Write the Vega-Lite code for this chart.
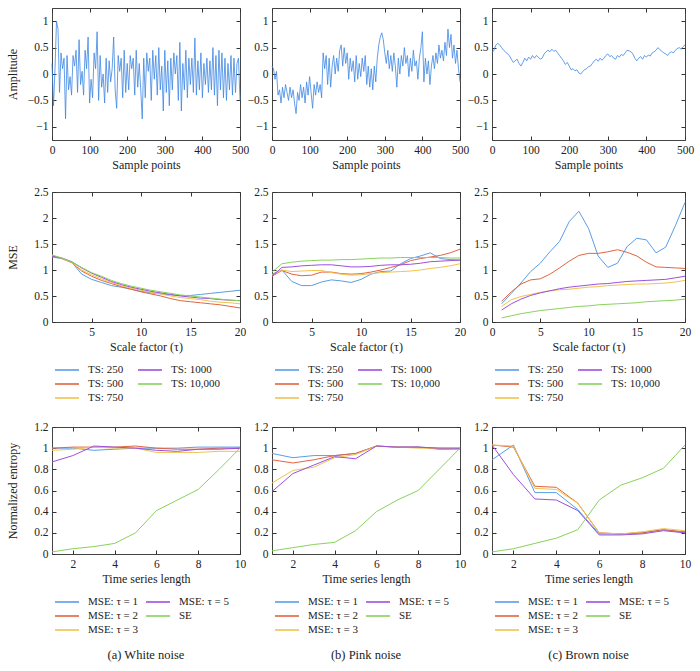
{
"$schema":"https://vega.github.io/schema/vega-lite/v6.json",
"background":"white",
"padding":{"left":5,"top":7,"right":5,"bottom":5},
"config":{
 "font":"Liberation Serif",
 "view":{"stroke":"#444","strokeWidth":1},
 "axis":{"labelFont":"Liberation Serif","titleFont":"Liberation Serif","labelFontSize":11.5,"titleFontSize":12,"titleFontWeight":"normal","labelColor":"#222","titleColor":"#222","tickSize":-4,"tickColor":"#333","domain":false,"grid":false,"labelPadding":8,"labelFlush":false,"labelOverlap":false,"titlePadding":4},
 "legend":{"orient":"bottom","columns":2,"symbolType":"M-1,0H3","symbolSize":144,"symbolStrokeWidth":1.6,"labelFont":"Liberation Serif","labelFontSize":11,"labelColor":"#222","labelOffset":20,"rowPadding":2,"offset":8,"padding":2},
 "title":{"font":"Liberation Serif","fontSize":12.5,"fontWeight":"normal","color":"#222"}
},
"datasets":{
"ts":[
{"t":0,"w":0.2,"p":0.15},{"t":4,"w":-0.6,"p":0.1},{"t":8,"w":0.1,"p":-0.1},{"t":12,"w":1.0,"p":0.05},{"t":16,"w":0.85,"p":-0.4},{"t":20,"w":-0.35,"p":-0.3},{"t":24,"w":0.4,"p":-0.55},{"t":28,"w":0.1,"p":-0.25},{"t":32,"w":0.3,"p":-0.45},{"t":36,"w":-0.85,"p":-0.2},{"t":40,"w":0.35,"p":-0.35},{"t":44,"w":-0.3,"p":-0.5},{"t":48,"w":-0.05,"p":-0.25},{"t":52,"w":-0.4,"p":-0.45},{"t":56,"w":0.35,"p":-0.3},{"t":60,"w":0.15,"p":-0.55},{"t":64,"w":0.45,"p":-0.75},{"t":68,"w":-0.35,"p":-0.35},{"t":72,"w":0.65,"p":-0.5},{"t":76,"w":-0.2,"p":-0.2},{"t":80,"w":0.05,"p":-0.45},{"t":84,"w":-0.4,"p":-0.25},{"t":88,"w":0.45,"p":-0.55},{"t":92,"w":0.1,"p":-0.15},{"t":96,"w":0.7,"p":-0.4},{"t":100,"w":-0.55,"p":-0.05},{"t":104,"w":-0.1,"p":-0.35},{"t":108,"w":-0.45,"p":-0.65},{"t":112,"w":0.4,"p":-0.2},{"t":116,"w":0.1,"p":-0.4},{"t":120,"w":0.8,"p":-0.15},{"t":124,"w":-0.5,"p":-0.35},{"t":128,"w":0.35,"p":-0.2},{"t":132,"w":-0.25,"p":-0.45},{"t":136,"w":0.0,"p":0.4},{"t":140,"w":-0.55,"p":0.1},{"t":144,"w":0.3,"p":0.35},{"t":148,"w":-0.35,"p":-0.2},{"t":152,"w":0.25,"p":0.3},{"t":156,"w":-0.15,"p":-0.25},{"t":160,"w":0.1,"p":0.15},{"t":164,"w":0.7,"p":0.35},{"t":168,"w":-0.3,"p":0.0},{"t":172,"w":-0.65,"p":0.3},{"t":176,"w":0.35,"p":0.05},{"t":180,"w":0.05,"p":0.45},{"t":184,"w":0.3,"p":0.55},{"t":188,"w":-0.45,"p":0.15},{"t":192,"w":0.45,"p":0.5},{"t":196,"w":-0.35,"p":0.2},{"t":200,"w":0.2,"p":0.4},{"t":204,"w":-0.3,"p":-0.1},{"t":208,"w":0.35,"p":0.3},{"t":212,"w":0.1,"p":0.05},{"t":216,"w":0.3,"p":0.25},{"t":220,"w":-0.4,"p":-0.15},{"t":224,"w":0.45,"p":0.35},{"t":228,"w":-0.25,"p":-0.1},{"t":232,"w":0.2,"p":0.2},{"t":236,"w":-0.3,"p":-0.05},{"t":240,"w":-0.85,"p":0.3},{"t":244,"w":0.3,"p":0.05},{"t":248,"w":-0.45,"p":0.35},{"t":252,"w":0.4,"p":-0.2},{"t":256,"w":0.05,"p":0.15},{"t":260,"w":0.3,"p":-0.25},{"t":264,"w":-0.5,"p":0.1},{"t":268,"w":0.45,"p":-0.3},{"t":272,"w":-0.1,"p":0.15},{"t":276,"w":0.35,"p":-0.15},{"t":280,"w":-0.4,"p":0.3},{"t":284,"w":0.5,"p":0.55},{"t":288,"w":-0.3,"p":0.7},{"t":292,"w":0.15,"p":0.78},{"t":296,"w":-0.7,"p":0.65},{"t":300,"w":0.45,"p":0.4},{"t":304,"w":-0.35,"p":0.2},{"t":308,"w":0.25,"p":0.45},{"t":312,"w":-0.6,"p":0.1},{"t":316,"w":0.3,"p":0.35},{"t":320,"w":-0.3,"p":0.05},{"t":324,"w":0.4,"p":0.4},{"t":328,"w":0.0,"p":0.15},{"t":332,"w":0.35,"p":-0.25},{"t":336,"w":-0.5,"p":0.3},{"t":340,"w":0.6,"p":0.0},{"t":344,"w":-0.7,"p":0.35},{"t":348,"w":0.2,"p":0.15},{"t":352,"w":-0.3,"p":0.5},{"t":356,"w":0.45,"p":0.2},{"t":360,"w":-0.45,"p":0.35},{"t":364,"w":0.3,"p":-0.05},{"t":368,"w":-0.2,"p":0.3},{"t":372,"w":0.3,"p":0.05},{"t":376,"w":-0.35,"p":0.45},{"t":380,"w":0.68,"p":0.15},{"t":384,"w":-0.4,"p":0.25},{"t":388,"w":0.25,"p":-0.1},{"t":392,"w":-0.3,"p":0.3},{"t":396,"w":0.4,"p":0.5},{"t":400,"w":-0.45,"p":0.8},{"t":404,"w":0.2,"p":-0.15},{"t":408,"w":-0.2,"p":0.3},{"t":412,"w":0.3,"p":0.0},{"t":416,"w":-0.35,"p":0.25},{"t":420,"w":0.25,"p":-0.2},{"t":424,"w":-0.3,"p":0.15},{"t":428,"w":0.5,"p":0.35},{"t":432,"w":-0.4,"p":0.1},{"t":436,"w":0.35,"p":0.4},{"t":440,"w":-0.6,"p":0.2},{"t":444,"w":0.45,"p":0.55},{"t":448,"w":-0.3,"p":0.3},{"t":452,"w":0.4,"p":0.45},{"t":456,"w":-0.45,"p":0.25},{"t":460,"w":0.3,"p":0.6},{"t":464,"w":-0.5,"p":0.35},{"t":468,"w":0.2,"p":0.85},{"t":472,"w":-0.3,"p":0.5},{"t":476,"w":0.35,"p":0.75},{"t":480,"w":-0.4,"p":0.3},{"t":484,"w":0.3,"p":0.55},{"t":488,"w":-0.35,"p":0.2},{"t":492,"w":0.2,"p":0.45},{"t":496,"w":0.3,"p":0.1},{"t":500,"w":-0.5,"p":-0.15}
],
"brown":[
{"t":0,"b":0.4},{"t":5,"b":0.45},{"t":10,"b":0.55},{"t":15,"b":0.58},{"t":20,"b":0.55},{"t":25,"b":0.5},{"t":30,"b":0.45},{"t":35,"b":0.42},{"t":40,"b":0.38},{"t":45,"b":0.35},{"t":50,"b":0.28},{"t":55,"b":0.22},{"t":60,"b":0.25},{"t":65,"b":0.28},{"t":70,"b":0.2},{"t":75,"b":0.15},{"t":80,"b":0.22},{"t":85,"b":0.3},{"t":90,"b":0.25},{"t":95,"b":0.32},{"t":100,"b":0.28},{"t":105,"b":0.35},{"t":110,"b":0.3},{"t":115,"b":0.35},{"t":120,"b":0.32},{"t":125,"b":0.28},{"t":130,"b":0.3},{"t":135,"b":0.38},{"t":140,"b":0.42},{"t":145,"b":0.45},{"t":150,"b":0.42},{"t":155,"b":0.47},{"t":160,"b":0.43},{"t":165,"b":0.45},{"t":170,"b":0.4},{"t":175,"b":0.35},{"t":180,"b":0.3},{"t":185,"b":0.25},{"t":190,"b":0.18},{"t":195,"b":0.22},{"t":200,"b":0.15},{"t":205,"b":0.08},{"t":210,"b":0.1},{"t":215,"b":0.06},{"t":220,"b":0.08},{"t":225,"b":0.02},{"t":230,"b":0.0},{"t":235,"b":0.05},{"t":240,"b":0.08},{"t":245,"b":0.1},{"t":250,"b":0.14},{"t":255,"b":0.15},{"t":260,"b":0.2},{"t":265,"b":0.25},{"t":270,"b":0.28},{"t":275,"b":0.24},{"t":280,"b":0.3},{"t":285,"b":0.26},{"t":290,"b":0.3},{"t":295,"b":0.35},{"t":300,"b":0.38},{"t":305,"b":0.33},{"t":310,"b":0.35},{"t":315,"b":0.3},{"t":320,"b":0.28},{"t":325,"b":0.35},{"t":330,"b":0.32},{"t":335,"b":0.37},{"t":340,"b":0.35},{"t":345,"b":0.4},{"t":350,"b":0.45},{"t":355,"b":0.44},{"t":360,"b":0.42},{"t":365,"b":0.38},{"t":370,"b":0.3},{"t":375,"b":0.25},{"t":380,"b":0.3},{"t":385,"b":0.33},{"t":390,"b":0.28},{"t":395,"b":0.35},{"t":400,"b":0.32},{"t":405,"b":0.36},{"t":410,"b":0.34},{"t":415,"b":0.4},{"t":420,"b":0.42},{"t":425,"b":0.45},{"t":430,"b":0.5},{"t":435,"b":0.46},{"t":440,"b":0.43},{"t":445,"b":0.4},{"t":450,"b":0.38},{"t":455,"b":0.35},{"t":460,"b":0.4},{"t":465,"b":0.42},{"t":470,"b":0.4},{"t":475,"b":0.45},{"t":480,"b":0.48},{"t":485,"b":0.5},{"t":490,"b":0.47},{"t":495,"b":0.52},{"t":500,"b":0.55}
],
"mseW":[
{"tau":1,"TS: 250":1.25,"TS: 500":1.27,"TS: 750":1.28,"TS: 1000":1.27,"TS: 10,000":1.29},
{"tau":2,"TS: 250":1.22,"TS: 500":1.22,"TS: 750":1.22,"TS: 1000":1.23,"TS: 10,000":1.23},
{"tau":3,"TS: 250":1.15,"TS: 500":1.14,"TS: 750":1.14,"TS: 1000":1.16,"TS: 10,000":1.15},
{"tau":4,"TS: 250":0.92,"TS: 500":0.98,"TS: 750":1.0,"TS: 1000":1.04,"TS: 10,000":1.05},
{"tau":5,"TS: 250":0.82,"TS: 500":0.88,"TS: 750":0.91,"TS: 1000":0.94,"TS: 10,000":0.95},
{"tau":6,"TS: 250":0.76,"TS: 500":0.8,"TS: 750":0.83,"TS: 1000":0.86,"TS: 10,000":0.88},
{"tau":7,"TS: 250":0.7,"TS: 500":0.74,"TS: 750":0.76,"TS: 1000":0.78,"TS: 10,000":0.8},
{"tau":8,"TS: 250":0.67,"TS: 500":0.68,"TS: 750":0.7,"TS: 1000":0.72,"TS: 10,000":0.74},
{"tau":9,"TS: 250":0.63,"TS: 500":0.63,"TS: 750":0.65,"TS: 1000":0.67,"TS: 10,000":0.69},
{"tau":10,"TS: 250":0.59,"TS: 500":0.58,"TS: 750":0.61,"TS: 1000":0.63,"TS: 10,000":0.65},
{"tau":11,"TS: 250":0.56,"TS: 500":0.54,"TS: 750":0.57,"TS: 1000":0.59,"TS: 10,000":0.61},
{"tau":12,"TS: 250":0.54,"TS: 500":0.5,"TS: 750":0.54,"TS: 1000":0.56,"TS: 10,000":0.58},
{"tau":13,"TS: 250":0.52,"TS: 500":0.45,"TS: 750":0.5,"TS: 1000":0.53,"TS: 10,000":0.55},
{"tau":14,"TS: 250":0.51,"TS: 500":0.41,"TS: 750":0.47,"TS: 1000":0.5,"TS: 10,000":0.52},
{"tau":15,"TS: 250":0.51,"TS: 500":0.39,"TS: 750":0.45,"TS: 1000":0.48,"TS: 10,000":0.5},
{"tau":16,"TS: 250":0.53,"TS: 500":0.37,"TS: 750":0.43,"TS: 1000":0.46,"TS: 10,000":0.48},
{"tau":17,"TS: 250":0.55,"TS: 500":0.35,"TS: 750":0.4,"TS: 1000":0.45,"TS: 10,000":0.46},
{"tau":18,"TS: 250":0.57,"TS: 500":0.33,"TS: 750":0.38,"TS: 1000":0.43,"TS: 10,000":0.44},
{"tau":19,"TS: 250":0.59,"TS: 500":0.3,"TS: 750":0.37,"TS: 1000":0.42,"TS: 10,000":0.42},
{"tau":20,"TS: 250":0.61,"TS: 500":0.27,"TS: 750":0.35,"TS: 1000":0.41,"TS: 10,000":0.41}
],
"mseP":[
{"tau":1,"TS: 250":0.92,"TS: 500":0.88,"TS: 750":0.9,"TS: 1000":0.88,"TS: 10,000":0.96},
{"tau":2,"TS: 250":1.0,"TS: 500":0.99,"TS: 750":1.0,"TS: 1000":1.05,"TS: 10,000":1.12},
{"tau":3,"TS: 250":0.78,"TS: 500":0.92,"TS: 750":0.97,"TS: 1000":1.06,"TS: 10,000":1.15},
{"tau":4,"TS: 250":0.7,"TS: 500":0.89,"TS: 750":0.98,"TS: 1000":1.08,"TS: 10,000":1.17},
{"tau":5,"TS: 250":0.7,"TS: 500":0.9,"TS: 750":0.99,"TS: 1000":1.09,"TS: 10,000":1.18},
{"tau":6,"TS: 250":0.77,"TS: 500":0.96,"TS: 750":0.99,"TS: 1000":1.1,"TS: 10,000":1.19},
{"tau":7,"TS: 250":0.81,"TS: 500":0.96,"TS: 750":0.95,"TS: 1000":1.1,"TS: 10,000":1.19},
{"tau":8,"TS: 250":0.79,"TS: 500":0.93,"TS: 750":0.92,"TS: 1000":1.08,"TS: 10,000":1.2},
{"tau":9,"TS: 250":0.76,"TS: 500":0.92,"TS: 750":0.9,"TS: 1000":1.06,"TS: 10,000":1.2},
{"tau":10,"TS: 250":0.82,"TS: 500":0.93,"TS: 750":0.91,"TS: 1000":1.06,"TS: 10,000":1.21},
{"tau":11,"TS: 250":0.92,"TS: 500":0.96,"TS: 750":0.93,"TS: 1000":1.07,"TS: 10,000":1.22},
{"tau":12,"TS: 250":0.97,"TS: 500":1.0,"TS: 750":0.95,"TS: 1000":1.09,"TS: 10,000":1.23},
{"tau":13,"TS: 250":0.98,"TS: 500":1.05,"TS: 750":0.96,"TS: 1000":1.1,"TS: 10,000":1.23},
{"tau":14,"TS: 250":1.12,"TS: 500":1.1,"TS: 750":0.97,"TS: 1000":1.1,"TS: 10,000":1.24},
{"tau":15,"TS: 250":1.22,"TS: 500":1.18,"TS: 750":0.98,"TS: 1000":1.11,"TS: 10,000":1.24},
{"tau":16,"TS: 250":1.27,"TS: 500":1.22,"TS: 750":1.0,"TS: 1000":1.13,"TS: 10,000":1.24},
{"tau":17,"TS: 250":1.33,"TS: 500":1.25,"TS: 750":1.03,"TS: 1000":1.16,"TS: 10,000":1.24},
{"tau":18,"TS: 250":1.22,"TS: 500":1.28,"TS: 750":1.05,"TS: 1000":1.17,"TS: 10,000":1.24},
{"tau":19,"TS: 250":1.2,"TS: 500":1.33,"TS: 750":1.08,"TS: 1000":1.18,"TS: 10,000":1.23},
{"tau":20,"TS: 250":1.19,"TS: 500":1.4,"TS: 750":1.12,"TS: 1000":1.19,"TS: 10,000":1.23}
],
"mseB":[
{"tau":1,"TS: 250":0.35,"TS: 500":0.4,"TS: 750":0.3,"TS: 1000":0.23,"TS: 10,000":0.08},
{"tau":2,"TS: 250":0.55,"TS: 500":0.58,"TS: 750":0.43,"TS: 1000":0.35,"TS: 10,000":0.12},
{"tau":3,"TS: 250":0.75,"TS: 500":0.73,"TS: 750":0.49,"TS: 1000":0.44,"TS: 10,000":0.16},
{"tau":4,"TS: 250":0.97,"TS: 500":0.81,"TS: 750":0.53,"TS: 1000":0.51,"TS: 10,000":0.19},
{"tau":5,"TS: 250":1.13,"TS: 500":0.83,"TS: 750":0.57,"TS: 1000":0.56,"TS: 10,000":0.22},
{"tau":6,"TS: 250":1.35,"TS: 500":0.92,"TS: 750":0.6,"TS: 1000":0.6,"TS: 10,000":0.24},
{"tau":7,"TS: 250":1.55,"TS: 500":1.04,"TS: 750":0.62,"TS: 1000":0.64,"TS: 10,000":0.26},
{"tau":8,"TS: 250":1.93,"TS: 500":1.17,"TS: 750":0.63,"TS: 1000":0.67,"TS: 10,000":0.28},
{"tau":9,"TS: 250":2.13,"TS: 500":1.28,"TS: 750":0.65,"TS: 1000":0.69,"TS: 10,000":0.3},
{"tau":10,"TS: 250":1.8,"TS: 500":1.32,"TS: 750":0.67,"TS: 1000":0.71,"TS: 10,000":0.31},
{"tau":11,"TS: 250":1.27,"TS: 500":1.32,"TS: 750":0.68,"TS: 1000":0.73,"TS: 10,000":0.33},
{"tau":12,"TS: 250":1.05,"TS: 500":1.35,"TS: 750":0.7,"TS: 1000":0.74,"TS: 10,000":0.34},
{"tau":13,"TS: 250":1.13,"TS: 500":1.39,"TS: 750":0.71,"TS: 1000":0.76,"TS: 10,000":0.35},
{"tau":14,"TS: 250":1.45,"TS: 500":1.34,"TS: 750":0.72,"TS: 1000":0.78,"TS: 10,000":0.36},
{"tau":15,"TS: 250":1.61,"TS: 500":1.27,"TS: 750":0.73,"TS: 1000":0.79,"TS: 10,000":0.37},
{"tau":16,"TS: 250":1.58,"TS: 500":1.15,"TS: 750":0.73,"TS: 1000":0.8,"TS: 10,000":0.39},
{"tau":17,"TS: 250":1.33,"TS: 500":1.06,"TS: 750":0.74,"TS: 1000":0.81,"TS: 10,000":0.4},
{"tau":18,"TS: 250":1.44,"TS: 500":1.05,"TS: 750":0.75,"TS: 1000":0.82,"TS: 10,000":0.41},
{"tau":19,"TS: 250":1.85,"TS: 500":1.04,"TS: 750":0.77,"TS: 1000":0.85,"TS: 10,000":0.42},
{"tau":20,"TS: 250":2.3,"TS: 500":1.03,"TS: 750":0.8,"TS: 1000":0.88,"TS: 10,000":0.44}
],
"neW":[
{"n":1,"MSE: τ = 1":1.0,"MSE: τ = 2":1.0,"MSE: τ = 3":0.98,"MSE: τ = 5":0.87,"SE":0.02},
{"n":2,"MSE: τ = 1":1.0,"MSE: τ = 2":1.01,"MSE: τ = 3":0.99,"MSE: τ = 5":0.93,"SE":0.05},
{"n":3,"MSE: τ = 1":0.98,"MSE: τ = 2":1.01,"MSE: τ = 3":1.01,"MSE: τ = 5":1.02,"SE":0.07},
{"n":4,"MSE: τ = 1":0.99,"MSE: τ = 2":1.01,"MSE: τ = 3":1.0,"MSE: τ = 5":1.01,"SE":0.1},
{"n":5,"MSE: τ = 1":1.0,"MSE: τ = 2":1.02,"MSE: τ = 3":1.0,"MSE: τ = 5":1.0,"SE":0.2},
{"n":6,"MSE: τ = 1":1.0,"MSE: τ = 2":1.0,"MSE: τ = 3":0.96,"MSE: τ = 5":0.98,"SE":0.41},
{"n":7,"MSE: τ = 1":1.0,"MSE: τ = 2":0.99,"MSE: τ = 3":0.96,"MSE: τ = 5":0.97,"SE":0.51},
{"n":8,"MSE: τ = 1":1.01,"MSE: τ = 2":0.99,"MSE: τ = 3":0.96,"MSE: τ = 5":0.99,"SE":0.61},
{"n":9,"MSE: τ = 1":1.01,"MSE: τ = 2":1.0,"MSE: τ = 3":0.97,"MSE: τ = 5":0.99,"SE":0.8},
{"n":10,"MSE: τ = 1":1.01,"MSE: τ = 2":1.0,"MSE: τ = 3":0.97,"MSE: τ = 5":1.0,"SE":1.0}
],
"neP":[
{"n":1,"MSE: τ = 1":0.95,"MSE: τ = 2":0.89,"MSE: τ = 3":0.67,"MSE: τ = 5":0.59,"SE":0.03},
{"n":2,"MSE: τ = 1":0.91,"MSE: τ = 2":0.86,"MSE: τ = 3":0.79,"MSE: τ = 5":0.76,"SE":0.06},
{"n":3,"MSE: τ = 1":0.93,"MSE: τ = 2":0.89,"MSE: τ = 3":0.82,"MSE: τ = 5":0.84,"SE":0.09},
{"n":4,"MSE: τ = 1":0.93,"MSE: τ = 2":0.93,"MSE: τ = 3":0.91,"MSE: τ = 5":0.92,"SE":0.11},
{"n":5,"MSE: τ = 1":0.95,"MSE: τ = 2":0.95,"MSE: τ = 3":0.94,"MSE: τ = 5":0.9,"SE":0.22},
{"n":6,"MSE: τ = 1":1.02,"MSE: τ = 2":1.02,"MSE: τ = 3":1.02,"MSE: τ = 5":1.02,"SE":0.4},
{"n":7,"MSE: τ = 1":1.01,"MSE: τ = 2":1.01,"MSE: τ = 3":1.01,"MSE: τ = 5":1.01,"SE":0.51},
{"n":8,"MSE: τ = 1":1.01,"MSE: τ = 2":1.01,"MSE: τ = 3":1.0,"MSE: τ = 5":1.01,"SE":0.6},
{"n":9,"MSE: τ = 1":1.0,"MSE: τ = 2":0.99,"MSE: τ = 3":1.0,"MSE: τ = 5":1.0,"SE":0.8},
{"n":10,"MSE: τ = 1":1.0,"MSE: τ = 2":0.99,"MSE: τ = 3":0.99,"MSE: τ = 5":1.0,"SE":1.0}
],
"neB":[
{"n":1,"MSE: τ = 1":0.89,"MSE: τ = 2":1.03,"MSE: τ = 3":1.03,"MSE: τ = 5":1.03,"SE":0.02},
{"n":2,"MSE: τ = 1":1.03,"MSE: τ = 2":1.01,"MSE: τ = 3":1.02,"MSE: τ = 5":0.75,"SE":0.05},
{"n":3,"MSE: τ = 1":0.58,"MSE: τ = 2":0.64,"MSE: τ = 3":0.62,"MSE: τ = 5":0.52,"SE":0.1},
{"n":4,"MSE: τ = 1":0.58,"MSE: τ = 2":0.63,"MSE: τ = 3":0.61,"MSE: τ = 5":0.51,"SE":0.15},
{"n":5,"MSE: τ = 1":0.42,"MSE: τ = 2":0.48,"MSE: τ = 3":0.48,"MSE: τ = 5":0.41,"SE":0.23},
{"n":6,"MSE: τ = 1":0.19,"MSE: τ = 2":0.2,"MSE: τ = 3":0.2,"MSE: τ = 5":0.18,"SE":0.51},
{"n":7,"MSE: τ = 1":0.19,"MSE: τ = 2":0.19,"MSE: τ = 3":0.19,"MSE: τ = 5":0.18,"SE":0.65},
{"n":8,"MSE: τ = 1":0.2,"MSE: τ = 2":0.2,"MSE: τ = 3":0.21,"MSE: τ = 5":0.19,"SE":0.72},
{"n":9,"MSE: τ = 1":0.23,"MSE: τ = 2":0.23,"MSE: τ = 3":0.24,"MSE: τ = 5":0.22,"SE":0.81},
{"n":10,"MSE: τ = 1":0.2,"MSE: τ = 2":0.21,"MSE: τ = 3":0.22,"MSE: τ = 5":0.2,"SE":1.03}
]
},
"vconcat":[
{"hconcat":[
 {"width":188,"height":132,"data":{"name":"ts"},"layer":[
  {"mark":{"type":"line","strokeWidth":0.8,"color":"#3d87e3"},"encoding":{
   "x":{"field":"t","type":"quantitative","scale":{"domain":[0,500],"nice":false},"axis":{"title":"Sample points","values":[0,100,200,300,400,500]}},
   "y":{"field":"w","type":"quantitative","scale":{"domain":[-1.25,1.25],"nice":false},"axis":{"title":"Amplitude","values":[-1,-0.5,0,0.5,1],"format":"~g","minExtent":30,"maxExtent":30,"titlePadding":3}}}},
  {"mark":{"type":"point","opacity":0},"encoding":{
   "x":{"field":"t","type":"quantitative","axis":{"orient":"top","labels":false,"title":null,"values":[0,100,200,300,400,500]}},
   "y":{"field":"w","type":"quantitative","axis":{"orient":"right","labels":false,"title":null,"values":[-1,-0.5,0,0.5,1]}}}}
 ],"resolve":{"axis":{"x":"independent","y":"independent"}}},
 {"width":188,"height":132,"data":{"name":"ts"},"layer":[
  {"mark":{"type":"line","strokeWidth":0.8,"color":"#3d87e3"},"encoding":{
   "x":{"field":"t","type":"quantitative","scale":{"domain":[0,500],"nice":false},"axis":{"title":"Sample points","values":[0,100,200,300,400,500]}},
   "y":{"field":"p","type":"quantitative","scale":{"domain":[-1.25,1.25],"nice":false},"axis":{"title":null,"values":[-1,-0.5,0,0.5,1],"format":"~g"}}}},
  {"mark":{"type":"point","opacity":0},"encoding":{
   "x":{"field":"t","type":"quantitative","axis":{"orient":"top","labels":false,"title":null,"values":[0,100,200,300,400,500]}},
   "y":{"field":"p","type":"quantitative","axis":{"orient":"right","labels":false,"title":null,"values":[-1,-0.5,0,0.5,1]}}}}
 ],"resolve":{"axis":{"x":"independent","y":"independent"}}},
 {"width":193,"height":132,"data":{"name":"brown"},"layer":[
  {"mark":{"type":"line","strokeWidth":0.8,"color":"#3d87e3"},"encoding":{
   "x":{"field":"t","type":"quantitative","scale":{"domain":[0,500],"nice":false},"axis":{"title":"Sample points","values":[0,100,200,300,400,500]}},
   "y":{"field":"b","type":"quantitative","scale":{"domain":[-1.25,1.25],"nice":false},"axis":{"title":null,"values":[-1,-0.5,0,0.5,1],"format":"~g"}}}},
  {"mark":{"type":"point","opacity":0},"encoding":{
   "x":{"field":"t","type":"quantitative","axis":{"orient":"top","labels":false,"title":null,"values":[0,100,200,300,400,500]}},
   "y":{"field":"b","type":"quantitative","axis":{"orient":"right","labels":false,"title":null,"values":[-1,-0.5,0,0.5,1]}}}}
 ],"resolve":{"axis":{"x":"independent","y":"independent"}}}
],"spacing":32,"bounds":"flush"},
{"hconcat":[
 {"width":188,"height":130,"data":{"name":"mseW"},"transform":[{"fold":["TS: 250","TS: 500","TS: 750","TS: 1000","TS: 10,000"],"as":["series","mse"]}],"layer":[
  {"mark":{"type":"line","strokeWidth":1},"encoding":{
   "x":{"field":"tau","type":"quantitative","scale":{"domain":[1,20],"nice":false,"zero":false},"axis":{"title":"Scale factor (τ)","values":[5,10,15,20]}},
   "y":{"field":"mse","type":"quantitative","scale":{"domain":[0,2.5],"nice":false},"axis":{"title":"MSE","values":[0,0.5,1,1.5,2,2.5],"format":"~g","minExtent":30,"maxExtent":30,"titlePadding":3}},
   "color":{"field":"series","type":"nominal","scale":{"domain":["TS: 250","TS: 1000","TS: 500","TS: 10,000","TS: 750"],"range":["#5a9de6","#9b50e0","#e2643f","#88d35c","#f2c24f"]},"legend":{"title":null,"columnPadding":10}}}},
  {"mark":{"type":"point","opacity":0},"encoding":{
   "x":{"field":"tau","type":"quantitative","axis":{"orient":"top","labels":false,"title":null,"values":[5,10,15,20]}},
   "y":{"field":"mse","type":"quantitative","axis":{"orient":"right","labels":false,"title":null,"values":[0,0.5,1,1.5,2,2.5]}}}}
 ],"resolve":{"axis":{"x":"independent","y":"independent"}}},
 {"width":188,"height":130,"data":{"name":"mseP"},"transform":[{"fold":["TS: 250","TS: 500","TS: 750","TS: 1000","TS: 10,000"],"as":["series","mse"]}],"layer":[
  {"mark":{"type":"line","strokeWidth":1},"encoding":{
   "x":{"field":"tau","type":"quantitative","scale":{"domain":[1,20],"nice":false,"zero":false},"axis":{"title":"Scale factor (τ)","values":[5,10,15,20]}},
   "y":{"field":"mse","type":"quantitative","scale":{"domain":[0,2.5],"nice":false},"axis":{"title":null,"values":[0,0.5,1,1.5,2,2.5],"format":"~g"}},
   "color":{"field":"series","type":"nominal","scale":{"domain":["TS: 250","TS: 1000","TS: 500","TS: 10,000","TS: 750"],"range":["#5a9de6","#9b50e0","#e2643f","#88d35c","#f2c24f"]},"legend":{"title":null,"columnPadding":10}}}},
  {"mark":{"type":"point","opacity":0},"encoding":{
   "x":{"field":"tau","type":"quantitative","axis":{"orient":"top","labels":false,"title":null,"values":[5,10,15,20]}},
   "y":{"field":"mse","type":"quantitative","axis":{"orient":"right","labels":false,"title":null,"values":[0,0.5,1,1.5,2,2.5]}}}}
 ],"resolve":{"axis":{"x":"independent","y":"independent"}}},
 {"width":193,"height":130,"data":{"name":"mseB"},"transform":[{"fold":["TS: 250","TS: 500","TS: 750","TS: 1000","TS: 10,000"],"as":["series","mse"]}],"layer":[
  {"mark":{"type":"line","strokeWidth":1},"encoding":{
   "x":{"field":"tau","type":"quantitative","scale":{"domain":[0,20],"nice":false},"axis":{"title":"Scale factor (τ)","values":[0,5,10,15,20]}},
   "y":{"field":"mse","type":"quantitative","scale":{"domain":[0,2.5],"nice":false},"axis":{"title":null,"values":[0,0.5,1,1.5,2,2.5],"format":"~g"}},
   "color":{"field":"series","type":"nominal","scale":{"domain":["TS: 250","TS: 1000","TS: 500","TS: 10,000","TS: 750"],"range":["#5a9de6","#9b50e0","#e2643f","#88d35c","#f2c24f"]},"legend":{"title":null,"columnPadding":10}}}},
  {"mark":{"type":"point","opacity":0},"encoding":{
   "x":{"field":"tau","type":"quantitative","axis":{"orient":"top","labels":false,"title":null,"values":[0,5,10,15,20]}},
   "y":{"field":"mse","type":"quantitative","axis":{"orient":"right","labels":false,"title":null,"values":[0,0.5,1,1.5,2,2.5]}}}}
 ],"resolve":{"axis":{"x":"independent","y":"independent"}}}
],"spacing":32,"bounds":"flush","resolve":{"scale":{"color":"independent"},"legend":{"color":"independent"}}},
{"hconcat":[
 {"width":188,"height":127,"title":{"text":"(a) White noise","orient":"bottom","anchor":"middle","frame":"group","offset":12},"data":{"name":"neW"},"transform":[{"fold":["MSE: τ = 1","MSE: τ = 2","MSE: τ = 3","MSE: τ = 5","SE"],"as":["series","ne"]}],"layer":[
  {"mark":{"type":"line","strokeWidth":1},"encoding":{
   "x":{"field":"n","type":"quantitative","scale":{"domain":[1,10],"nice":false,"zero":false},"axis":{"title":"Time series length","values":[2,4,6,8,10]}},
   "y":{"field":"ne","type":"quantitative","scale":{"domain":[0,1.2],"nice":false},"axis":{"title":"Normalized entropy","values":[0,0.2,0.4,0.6,0.8,1,1.2],"format":"~g","minExtent":30,"maxExtent":30,"titlePadding":3}},
   "color":{"field":"series","type":"nominal","scale":{"domain":["MSE: τ = 1","MSE: τ = 5","MSE: τ = 2","SE","MSE: τ = 3"],"range":["#5a9de6","#9b50e0","#e2643f","#88d35c","#f2c24f"]},"legend":{"title":null,"columnPadding":3}}}},
  {"mark":{"type":"point","opacity":0},"encoding":{
   "x":{"field":"n","type":"quantitative","axis":{"orient":"top","labels":false,"title":null,"values":[2,4,6,8,10]}},
   "y":{"field":"ne","type":"quantitative","axis":{"orient":"right","labels":false,"title":null,"values":[0,0.2,0.4,0.6,0.8,1,1.2]}}}}
 ],"resolve":{"axis":{"x":"independent","y":"independent"}}},
 {"width":188,"height":127,"title":{"text":"(b) Pink noise","orient":"bottom","anchor":"middle","frame":"group","offset":12},"data":{"name":"neP"},"transform":[{"fold":["MSE: τ = 1","MSE: τ = 2","MSE: τ = 3","MSE: τ = 5","SE"],"as":["series","ne"]}],"layer":[
  {"mark":{"type":"line","strokeWidth":1},"encoding":{
   "x":{"field":"n","type":"quantitative","scale":{"domain":[1,10],"nice":false,"zero":false},"axis":{"title":"Time series length","values":[2,4,6,8,10]}},
   "y":{"field":"ne","type":"quantitative","scale":{"domain":[0,1.2],"nice":false},"axis":{"title":null,"values":[0,0.2,0.4,0.6,0.8,1,1.2],"format":"~g"}},
   "color":{"field":"series","type":"nominal","scale":{"domain":["MSE: τ = 1","MSE: τ = 5","MSE: τ = 2","SE","MSE: τ = 3"],"range":["#5a9de6","#9b50e0","#e2643f","#88d35c","#f2c24f"]},"legend":{"title":null,"columnPadding":3}}}},
  {"mark":{"type":"point","opacity":0},"encoding":{
   "x":{"field":"n","type":"quantitative","axis":{"orient":"top","labels":false,"title":null,"values":[2,4,6,8,10]}},
   "y":{"field":"ne","type":"quantitative","axis":{"orient":"right","labels":false,"title":null,"values":[0,0.2,0.4,0.6,0.8,1,1.2]}}}}
 ],"resolve":{"axis":{"x":"independent","y":"independent"}}},
 {"width":193,"height":127,"title":{"text":"(c) Brown noise","orient":"bottom","anchor":"middle","frame":"group","offset":12},"data":{"name":"neB"},"transform":[{"fold":["MSE: τ = 1","MSE: τ = 2","MSE: τ = 3","MSE: τ = 5","SE"],"as":["series","ne"]}],"layer":[
  {"mark":{"type":"line","strokeWidth":1},"encoding":{
   "x":{"field":"n","type":"quantitative","scale":{"domain":[1,10],"nice":false,"zero":false},"axis":{"title":"Time series length","values":[2,4,6,8,10]}},
   "y":{"field":"ne","type":"quantitative","scale":{"domain":[0,1.2],"nice":false},"axis":{"title":null,"values":[0,0.2,0.4,0.6,0.8,1,1.2],"format":"~g"}},
   "color":{"field":"series","type":"nominal","scale":{"domain":["MSE: τ = 1","MSE: τ = 5","MSE: τ = 2","SE","MSE: τ = 3"],"range":["#5a9de6","#9b50e0","#e2643f","#88d35c","#f2c24f"]},"legend":{"title":null,"columnPadding":3}}}},
  {"mark":{"type":"point","opacity":0},"encoding":{
   "x":{"field":"n","type":"quantitative","axis":{"orient":"top","labels":false,"title":null,"values":[2,4,6,8,10]}},
   "y":{"field":"ne","type":"quantitative","axis":{"orient":"right","labels":false,"title":null,"values":[0,0.2,0.4,0.6,0.8,1,1.2]}}}}
 ],"resolve":{"axis":{"x":"independent","y":"independent"}}}
],"spacing":32,"bounds":"flush","resolve":{"scale":{"color":"independent"},"legend":{"color":"independent"}}}
],
"spacing":14,
"resolve":{"scale":{"color":"independent"},"legend":{"color":"independent"}}
}
